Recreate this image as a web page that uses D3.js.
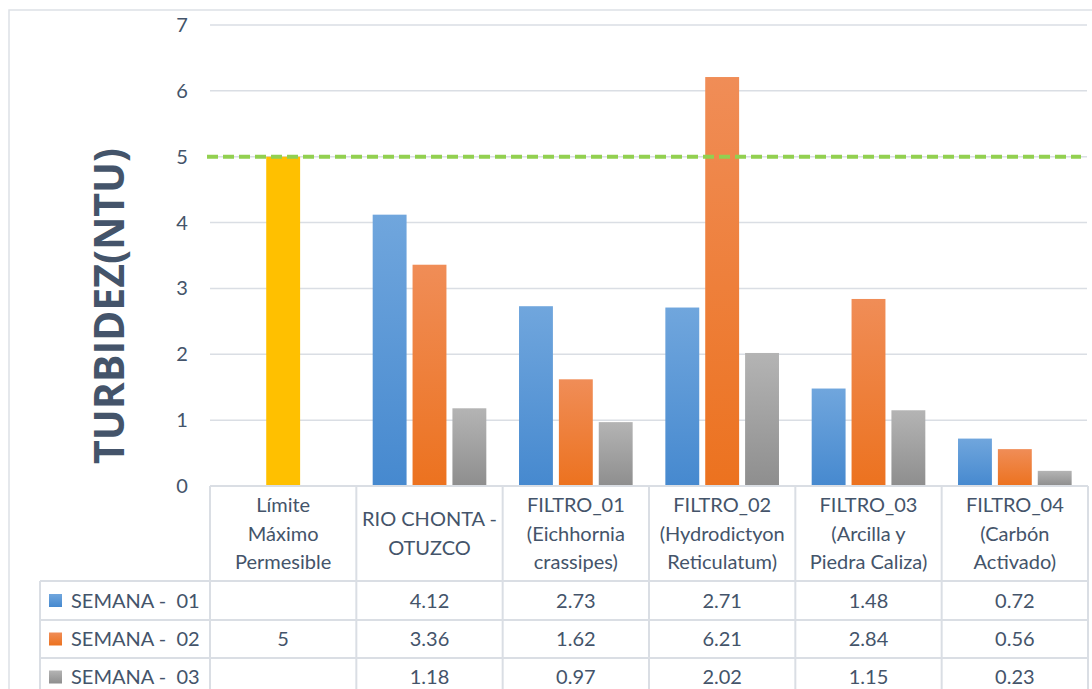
<!DOCTYPE html>
<html>
<head>
<meta charset="utf-8">
<script src="https://cdn.jsdelivr.net/npm/d3@7"></script>
<style>
  html, body { margin: 0; padding: 0; background: #fff; }
  svg { display: block; }
  text { font-family: Lato, "Noto Sans", sans-serif; fill: #44546a; }
</style>
</head>
<body>
<svg id="chart" width="1092" height="689"></svg>
<script>
const categories = [
  ["Límite", "Máximo", "Permesible"],
  ["RIO CHONTA -", "OTUZCO"],
  ["FILTRO_01", "(Eichhornia", "crassipes)"],
  ["FILTRO_02", "(Hydrodictyon", "Reticulatum)"],
  ["FILTRO_03", "(Arcilla y", "Piedra Caliza)"],
  ["FILTRO_04", "(Carbón", "Activado)"]
];
const seriesNames = ["SEMANA -  01", "SEMANA -  02", "SEMANA -  03"];
const semana01 = [null, 4.12, 2.73, 2.71, 1.48, 0.72];
const semana02 = [5, 3.36, 1.62, 6.21, 2.84, 0.56];
const semana03 = [null, 1.18, 0.97, 2.02, 1.15, 0.23];
const yTicks = [0, 1, 2, 3, 4, 5, 6, 7];
const limitValue = 5;
const yTitle = "TURBIDEZ(NTU)";

(function () {
const seriesValues = [semana01, semana02, semana03];
const colors = [
  { top: "#70a6dd", bottom: "#4689cf" },
  { top: "#f08d57", bottom: "#ec721f" },
  { top: "#b4b4b4", bottom: "#8e8e8e" }
];
const limitColor = "#ffc000";
const gridColor = "#dadee4";
const fs = 20;

const svg = d3.select("#chart");
const defs = svg.append("defs");
colors.forEach((c, i) => {
  const g = defs.append("linearGradient").attr("id", "grad" + i)
    .attr("x1", 0).attr("y1", 0).attr("x2", 0).attr("y2", 1);
  g.append("stop").attr("offset", "0%").attr("stop-color", c.top);
  g.append("stop").attr("offset", "100%").attr("stop-color", c.bottom);
});

// outer border
svg.append("rect").attr("x", 9).attr("y", 10).attr("width", 1100).attr("height", 700)
  .attr("fill", "none").attr("stroke", "#dde1e6").attr("stroke-width", 1.5);

const pLeft = 210, pRight = 1088, pTop = 25, pBottom = 486;
const y = d3.scaleLinear().domain([0, 7]).range([pBottom, pTop]);
const catIdx = categories.map((d, i) => i);
const x0 = d3.scaleBand().domain(catIdx).range([pLeft, pRight]).paddingInner(0).paddingOuter(0);
const x1 = d3.scaleBand().domain([0, 1, 2]).range([0, x0.bandwidth()]).paddingInner(0.15).paddingOuter(0.41);

// gridlines
svg.append("g").selectAll("line").data(yTicks.filter(t => t > 0)).join("line")
  .attr("x1", pLeft).attr("x2", pRight - 1)
  .attr("y1", d => y(d)).attr("y2", d => y(d))
  .attr("stroke", gridColor).attr("stroke-width", 1.5);

// y tick labels
svg.append("g").selectAll("text").data(yTicks).join("text")
  .attr("x", 182).attr("y", d => y(d)).attr("dy", "0.35em")
  .attr("text-anchor", "middle").attr("font-size", fs)
  .text(d => d);

// bars
seriesValues.forEach((vals, s) => {
  svg.append("g").selectAll("rect").data(vals.map((v, i) => ({ v, i })).filter(d => d.v != null))
    .join("rect")
    .attr("x", d => x0(d.i) + x1(s))
    .attr("width", x1.bandwidth())
    .attr("y", d => y(d.v))
    .attr("height", d => y(0) - y(d.v))
    .attr("fill", d => d.i === 0 ? limitColor : `url(#grad${s})`);
});

// limit dashed line
svg.append("line")
  .attr("x1", pLeft - 3).attr("x2", 1081)
  .attr("y1", y(limitValue)).attr("y2", y(limitValue))
  .attr("stroke", "#92d050").attr("stroke-width", 4)
  .attr("stroke-dasharray", "11,5");

// y title
const title = svg.append("text")
  .attr("transform", `translate(124, 306) rotate(-90)`)
  .attr("text-anchor", "middle").attr("font-weight", "bold")
  .attr("font-size", 38)
  .style("font-family", "'Open Sans', Lato, sans-serif")
  .text(yTitle);
const tl = title.node().getComputedTextLength();
title.attr("font-size", 38 * 316 / tl);

// table
const rowLines = [581, 620, 658];
const tbl = svg.append("g").attr("stroke", gridColor).attr("stroke-width", 2);
tbl.append("line").attr("x1", pLeft).attr("x2", pRight).attr("y1", pBottom).attr("y2", pBottom);
tbl.selectAll(".h").data(rowLines).join("line")
  .attr("x1", 40).attr("x2", pRight).attr("y1", d => d).attr("y2", d => d);
tbl.selectAll(".v").data(catIdx.concat([categories.length])).join("line")
  .attr("x1", d => d < categories.length ? x0(d) : pRight)
  .attr("x2", d => d < categories.length ? x0(d) : pRight)
  .attr("y1", pBottom).attr("y2", 700);
tbl.append("line").attr("x1", 40).attr("x2", 40).attr("y1", 581).attr("y2", 700);

// header labels
const lineH = 28.5;
categories.forEach((lines, i) => {
  const cx = x0(i) + x0.bandwidth() / 2;
  const cy = (pBottom + 581) / 2;
  const t = svg.append("text").attr("text-anchor", "middle").attr("font-size", fs);
  lines.forEach((ln, k) => {
    t.append("tspan").attr("x", cx)
      .attr("y", cy + (k - (lines.length - 1) / 2) * lineH)
      .attr("dy", "0.35em").text(ln);
  });
});

// data rows
const rowCenters = [600.5, 639, 677];
seriesValues.forEach((vals, s) => {
  svg.append("rect").attr("x", 49).attr("y", rowCenters[s] - 6.5)
    .attr("width", 13).attr("height", 13).attr("fill", `url(#grad${s})`);
  svg.append("text").attr("x", 71).attr("y", rowCenters[s]).attr("dy", "0.35em")
    .attr("font-size", fs).style("white-space", "pre")
    .text(seriesNames[s]);
  svg.append("g").selectAll("text").data(vals.map((v, i) => ({ v, i })).filter(d => d.v != null))
    .join("text")
    .attr("x", d => x0(d.i) + x0.bandwidth() / 2)
    .attr("y", rowCenters[s]).attr("dy", "0.35em")
    .attr("text-anchor", "middle").attr("font-size", fs)
    .text(d => d.v);
});
})();
</script>
</body>
</html>
